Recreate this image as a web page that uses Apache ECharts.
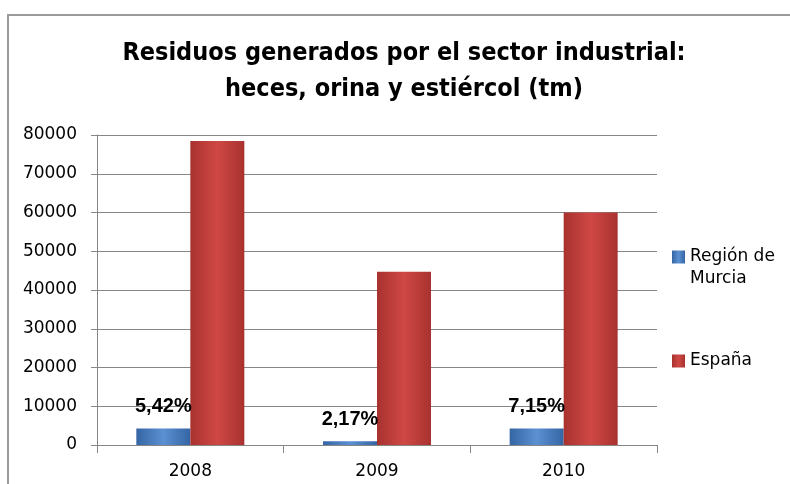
<!DOCTYPE html>
<html>
<head>
<meta charset="utf-8">
<script src="https://cdn.jsdelivr.net/npm/echarts@6/dist/echarts.min.js"></script>
<style>
  html, body { margin: 0; padding: 0; background: #fff; }
  #chart { width: 790px; height: 484px; }
</style>
</head>
<body>
<div id="chart"></div>
<script>
// datos
var years = ['2008', '2009', '2010'];
var murcia = [4250, 970, 4290];
var espana = [78450, 44700, 60000];
var murciaPct = ['5,42%', '2,17%', '7,15%'];

var axisFont = 'DejaVu Sans';

function barGrad(dark, light) {
    return new echarts.graphic.LinearGradient(0, 0, 1, 0, [
        { offset: 0, color: dark },
        { offset: 0.5, color: light },
        { offset: 1, color: dark }
    ]);
}

var chart = echarts.init(document.getElementById('chart'));
chart.setOption({
    animation: false,
    graphic: [{
        type: 'rect',
        shape: { x: 8, y: 15, width: 900, height: 600 },
        style: { fill: 'none', stroke: '#9a9a9a', lineWidth: 2 },
        silent: true
    }],
    title: {
        text: 'Residuos generados por el sector industrial:\nheces, orina y estiércol (tm)',
        left: 404,
        textAlign: 'center',
        top: 35,
        padding: 0,
        textStyle: {
            fontFamily: '"DejaVu Sans Condensed", sans-serif',
            fontWeight: 'bold',
            fontSize: 25,
            lineHeight: 36,
            color: '#000'
        }
    },
    legend: [{
        data: ['Región de Murcia'],
        orient: 'vertical',
        left: 672,
        top: 224,
        padding: 0,
        icon: 'rect',
        itemWidth: 13,
        itemHeight: 13,
        // linea vacia delante para que "Región de" quede a la altura del icono
        formatter: function (n) { return '\n' + n.replace(' de ', ' de\n'); },
        textStyle: { fontFamily: axisFont, fontSize: 17, lineHeight: 22, color: '#000' }
    }, {
        data: ['España'],
        orient: 'vertical',
        left: 672,
        top: 350,
        padding: 0,
        icon: 'rect',
        itemWidth: 13,
        itemHeight: 13,
        textStyle: { fontFamily: axisFont, fontSize: 17, lineHeight: 22, color: '#000' }
    }],
    grid: {
        left: 97,
        right: 133,
        top: 135,
        bottom: 39
    },
    xAxis: {
        type: 'category',
        data: years,
        axisLine: { lineStyle: { color: '#868686', width: 1 } },
        axisTick: { show: true, length: 8, interval: 0, lineStyle: { color: '#868686' } },
        axisLabel: { fontFamily: axisFont, fontSize: 17, color: '#000', margin: 18 }
    },
    yAxis: {
        type: 'value',
        min: 0,
        max: 80000,
        interval: 10000,
        axisLine: { show: true, lineStyle: { color: '#868686', width: 1 } },
        axisTick: { show: true, length: 6, lineStyle: { color: '#868686' } },
        axisLabel: {
            fontFamily: axisFont, fontSize: 17, color: '#000', margin: 20,
            formatter: function (v) { return String(v); }
        },
        splitLine: { lineStyle: { color: '#868686', width: 1 } }
    },
    series: [{
        name: 'Región de Murcia',
        type: 'bar',
        data: murcia,
        barWidth: 54,
        barGap: '0%',
        itemStyle: { color: barGrad('#3565a3', '#5b90d2') },
        label: {
            show: true,
            position: 'top',
            distance: 12,
            formatter: function (p) { return murciaPct[p.dataIndex]; },
            fontFamily: '"Liberation Sans", Arial, sans-serif',
            fontWeight: 'bold',
            fontSize: 20,
            color: '#000'
        }
    }, {
        name: 'España',
        type: 'bar',
        data: espana,
        barWidth: 54,
        itemStyle: { color: barGrad('#a8322f', '#cf4845') }
    }]
});
</script>
</body>
</html>
